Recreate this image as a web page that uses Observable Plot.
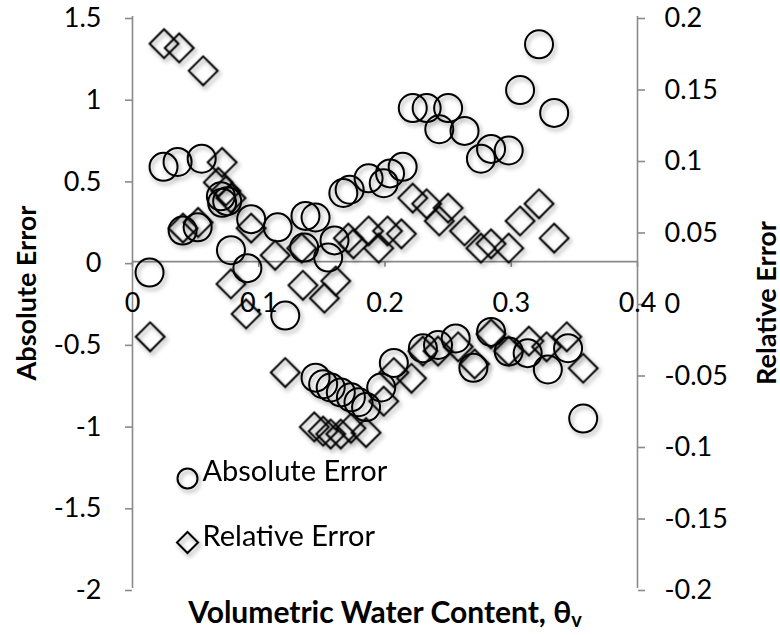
<!DOCTYPE html>
<html>
<head>
<meta charset="utf-8">
<script src="https://cdn.jsdelivr.net/npm/d3@7"></script>
<script src="https://cdn.jsdelivr.net/npm/@observablehq/plot@0.6"></script>
<style>
  html, body { margin: 0; padding: 0; background: #fff; }
  #chart svg { display: block; }
</style>
</head>
<body>
<div id="chart"></div>
<script>
// Absolute error (left axis)
const absX = [0.0135,0.0246,0.0357,0.0548,0.0397,0.0516,0.070,0.071,0.075,0.094,0.078,0.091,0.115,0.121,0.137,0.145,0.136,0.155,0.160,0.167,0.172,0.187,0.199,0.204,0.214,0.222,0.233,0.250,0.243,0.263,0.276,0.284,0.298,0.307,0.322,0.334,0.145,0.151,0.157,0.165,0.173,0.179,0.185,0.197,0.207,0.230,0.242,0.256,0.270,0.284,0.298,0.313,0.329,0.345,0.357];
const absY = [-0.067,0.58,0.61,0.63,0.19,0.21,0.40,0.36,0.37,0.26,0.07,-0.04,0.21,-0.33,0.28,0.27,0.086,0.025,0.13,0.42,0.44,0.51,0.48,0.54,0.58,0.94,0.94,0.94,0.81,0.80,0.63,0.69,0.68,1.05,1.33,0.91,-0.71,-0.75,-0.77,-0.80,-0.83,-0.86,-0.89,-0.77,-0.62,-0.53,-0.51,-0.47,-0.65,-0.43,-0.55,-0.56,-0.66,-0.53,-0.96];

// Relative error (right axis)
const relX = [0.014,0.025,0.037,0.056,0.040,0.052,0.071,0.068,0.074,0.078,0.078,0.094,0.090,0.113,0.121,0.134,0.135,0.152,0.161,0.171,0.175,0.187,0.195,0.202,0.213,0.222,0.233,0.243,0.250,0.263,0.276,0.284,0.298,0.307,0.322,0.334,0.144,0.151,0.157,0.165,0.173,0.185,0.199,0.207,0.221,0.230,0.242,0.258,0.271,0.284,0.298,0.314,0.328,0.344,0.357];
const relY = [-0.024,0.181,0.178,0.162,0.052,0.056,0.098,0.084,0.078,0.073,0.013,0.052,-0.008,0.033,-0.049,0.038,0.012,0.003,0.015,0.045,0.041,0.050,0.038,0.050,0.048,0.073,0.069,0.057,0.066,0.050,0.038,0.041,0.038,0.057,0.069,0.045,-0.087,-0.090,-0.092,-0.092,-0.088,-0.091,-0.069,-0.049,-0.053,-0.034,-0.034,-0.031,-0.043,-0.022,-0.034,-0.027,-0.031,-0.024,-0.046];

const xTicks = [0, 0.1, 0.2, 0.3, 0.4];
const leftTicks = [-2, -1.5, -1, -0.5, 0, 0.5, 1, 1.5];
const rightTicks = [-0.2, -0.15, -0.1, -0.05, 0, 0.05, 0.1, 0.15, 0.2];
const legendLabels = ["Absolute Error", "Relative Error"];
const xTitle = "Volumetric Water Content, θ";
const xTitleSub = "v";
const leftTitle = "Absolute Error";
const rightTitle = "Relative Error";

// map right-axis values onto the left-axis scale (both axes span the same frame)
const L = [-2, 1.5], R = [-0.2, 0.2];
const toLeft = r => L[0] + (r - R[0]) / (R[1] - R[0]) * (L[1] - L[0]);
const toRight = v => R[0] + (v - L[0]) / (L[1] - L[0]) * (R[1] - R[0]);

const abs = absX.map((x, i) => ({x, y: absY[i]}));
const rel = relX.map((x, i) => ({x, y: toLeft(relY[i])}));

const grey = "#8a8a8a";
const FONT = "Lato, 'Open Sans', sans-serif";

const chart = Plot.plot({
  width: 780, height: 635,
  marginLeft: 132, marginRight: 143, marginTop: 16, marginBottom: 47,
  style: {fontFamily: FONT, fontSize: "27px", color: "#000", background: "#fff"},
  x: {domain: [0, 0.4], axis: null},
  y: {domain: L},
  marks: [
    Plot.ruleX([0, 0.4], {stroke: grey, strokeWidth: 1.6}),
    Plot.ruleY([0], {stroke: grey, strokeWidth: 1.6}),
    Plot.axisY({anchor: "left", ticks: leftTicks, tickSize: 7, tickPadding: 24, label: null,
      stroke: grey, strokeWidth: 1.6, dy: 2, tickFormat: d => String(d)}),
    Plot.axisY({anchor: "right", ticks: rightTicks.map(toLeft), tickSize: 7, tickPadding: 20, label: null,
      stroke: grey, strokeWidth: 1.6, dy: 2, tickFormat: v => String(Math.round(toRight(v) * 100) / 100)}),
    Plot.ruleX(xTicks, {x: d => d, y1: 0, y2: -0.035, stroke: grey, strokeWidth: 1.6}),
    Plot.text(xTicks, {x: d => d, y: 0, dy: 42, text: d => String(d), fill: "#000"}),
    Plot.dot(abs, {x: "x", y: "y", r: 14, stroke: "#000", strokeWidth: 2, fill: "none"}),
    Plot.dot(rel, {x: "x", y: "y", symbol: "diamond2", r: 13, stroke: "#000", strokeWidth: 2, fill: "none"}),
    // legend
    Plot.dot([legendLabels[0]], {frameAnchor: "bottom-left", dx: 55, dy: -110, r: 10, stroke: "#000", strokeWidth: 2, fill: "none"}),
    Plot.dot([legendLabels[1]], {frameAnchor: "bottom-left", dx: 55, dy: -46, symbol: "diamond2", r: 9.5, stroke: "#000", strokeWidth: 2, fill: "none"}),
    Plot.text([legendLabels[0]], {frameAnchor: "bottom-left", dx: 70, dy: -108, text: d => d, textAnchor: "start", fill: "#000", fontSize: 29}),
    Plot.text([legendLabels[1]], {frameAnchor: "bottom-left", dx: 70, dy: -43, text: d => d, textAnchor: "start", fill: "#000", fontSize: 29})
  ]
});

document.getElementById("chart").appendChild(chart);

const svg = d3.select(chart);
svg.selectAll("g[aria-label='dot']").style("filter", "drop-shadow(2px 3px 2px rgba(0,0,0,0.35))");

const titleStyle = sel => sel.attr("font-family", FONT).attr("font-weight", "bold").attr("font-size", 27)
  .attr("text-anchor", "middle").attr("dominant-baseline", "central").attr("fill", "#000");

svg.append("text").call(titleStyle).attr("transform", "translate(25,293) rotate(-90)").text(leftTitle);
svg.append("text").call(titleStyle).attr("transform", "translate(765,303) rotate(-90)").text(rightTitle);
const xt = svg.append("text").call(titleStyle).attr("font-size", 30).attr("x", 385).attr("y", 611);
xt.append("tspan").text(xTitle);
xt.append("tspan").attr("font-size", 20).attr("dy", 8).text(xTitleSub);
</script>
</body>
</html>
